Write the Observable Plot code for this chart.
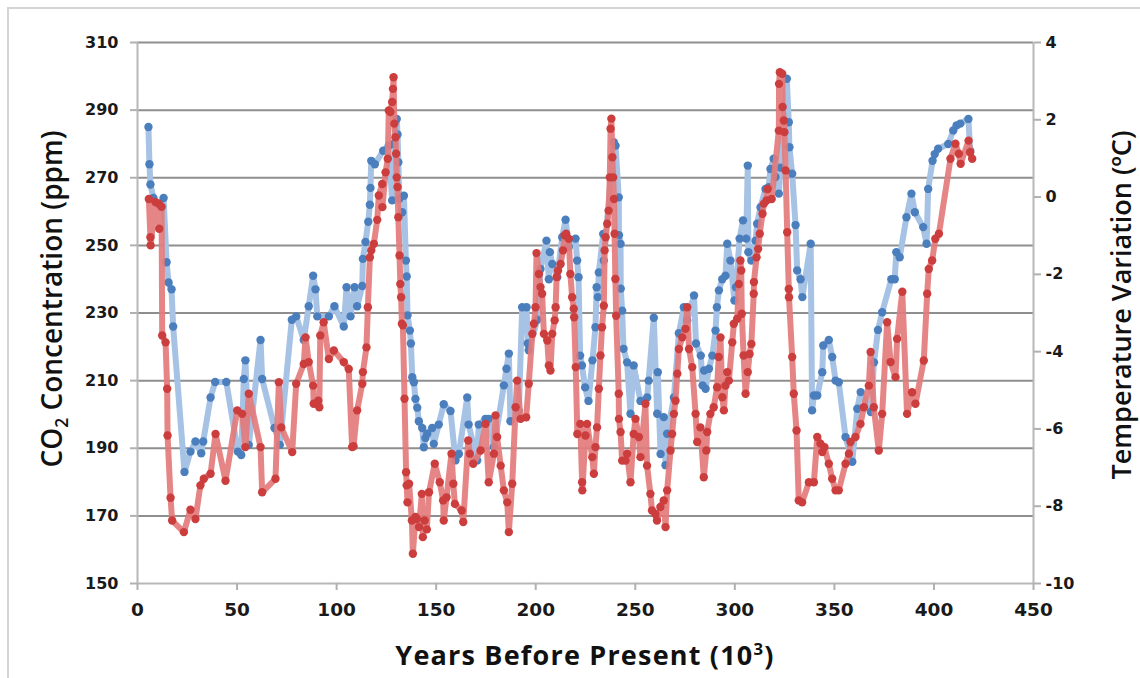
<!DOCTYPE html>
<html>
<head>
<meta charset="utf-8">
<script src="https://cdn.jsdelivr.net/npm/d3@7"></script>
<script src="https://cdn.jsdelivr.net/npm/@observablehq/plot@0.6"></script>
<style>
  html, body { margin:0; padding:0; background:#fff; overflow:hidden; }
  #wrap { position:relative; width:1140px; height:678px; overflow:hidden; background:#fff; }
  #frame { position:absolute; left:7px; top:7px; width:1200px; height:800px; border:2px solid #d4d4d4; box-sizing:border-box; }
  #chart { position:absolute; left:0; top:0; }
  .title { position:absolute; white-space:nowrap; color:#111; font-family:"Open Sans", "Noto Sans", sans-serif; font-weight:600; line-height:1.2; }
  #ylab { left:52px; top:299px; font-size:28px; transform:translate(-50%,-50%) rotate(-90deg); }
  #y2lab { left:1121px; top:305px; font-size:27px; transform:translate(-50%,-50%) rotate(-90deg); }
  #xlab { left:585px; top:655px; font-size:27px; letter-spacing:1.2px; font-weight:700; transform:translate(-50%,-50%); }
  sub { font-size:62%; vertical-align:-0.35em; line-height:0; }
  sup { font-size:62%; vertical-align:0.6em; line-height:0; }
</style>
</head>
<body>
<div id="wrap">
  <div id="frame"></div>
  <div id="chart"></div>
  <div class="title" id="ylab">CO<sub>2</sub> Concentration (ppm)</div>
  <div class="title" id="y2lab">Temperature Variation (ºC)</div>
  <div class="title" id="xlab">Years Before Present (10<sup>3</sup>)</div>
</div>
<script>
// ---- data ----
const co2Years = [5.5,6.0,6.5,8.0,10.5,13.1,14.6,15.6,17.1,17.9,23.6,26.6,29.1,32.0,33.0,36.7,39.0,44.6,50.4,52.1,53.4,54.2,55.9,61.8,62.6,68.8,71.5,77.5,79.7,83.5,86.0,88.2,89.4,90.3,96.1,98.9,103.6,105.0,107.0,109.0,110.3,112.9,113.2,114.5,115.9,116.7,117.0,117.4,119.2,123.4,126.2,127.9,128.7,130.2,130.6,131.0,131.5,132.9,133.8,134.8,135.2,135.6,136.8,137.3,138.0,138.8,139.6,140.5,141.3,143.0,143.8,144.6,145.5,148.0,148.8,151.3,153.8,157.2,159.7,161.4,165.6,166.3,170.6,171.4,174.8,176.4,179.0,184.0,185.3,186.5,187.3,191.5,193.2,195.4,196.0,196.5,200.8,202.4,205.4,206.6,207.1,208.3,210.8,213.3,215.0,216.6,220.0,220.8,221.5,222.3,223.2,224.8,226.5,228.5,230.0,230.6,231.2,231.7,233.9,234.2,239.2,240.1,241.7,241.8,242.6,242.7,243.4,244.1,245.9,247.6,249.2,252.6,256.0,256.7,259.3,261.0,261.3,262.7,264.3,265.2,266.0,269.4,271.9,274.4,276.1,279.5,280.5,282.9,283.8,284.6,285.3,287.0,288.7,290.3,291.0,292.0,293.7,295.3,296.2,297.8,299.8,300.6,302.4,304.1,305.7,306.5,306.8,308.3,310.4,311.2,312.9,315.4,317.0,317.9,319.5,320.4,322.1,322.9,326.1,327.1,327.4,328.8,330.5,331.3,333.0,333.9,338.1,338.8,339.7,341.4,343.9,344.4,347.2,348.9,350.6,352.2,355.6,359.0,361.5,363.2,368.3,369.9,371.9,374.0,378.6,380.3,381.1,382.8,386.2,388.7,390.4,394.6,396.3,397.1,399.3,400.4,402.1,407.2,409.7,411.4,413.2,417.3,418.2];
const co2Values = [285,274,268,264,262,264,245,239,237,226,183,189,192,188.5,192,205,209.6,209.6,189,188,210.5,216,191,222,210.5,196,191,228,229,222,232,241,237,229,229,232,226,237.6,229,237.6,232,238,246,251,257,262,267,275,274,278,279.5,263.3,280,287.4,282.8,274.6,263.8,259.8,264.7,245.5,240.8,229.3,224.8,221,211,209.5,204.6,202,198,196,190.3,193,194.3,196,191.3,197,203,201,186.4,188.3,205,197,186.4,197,198.7,198.7,190.3,208.6,213.5,218,198,201,231.7,231.7,221,219,228,243,251.4,240,248,244.5,240.6,252.4,257.6,249.5,252,245.5,240.6,217.4,214.5,208,204,216,225.8,237.6,234.7,242,253.4,245.5,280.5,279.5,264.2,253,250.5,237.2,230.7,219.4,215.4,200.2,214.5,204,205,210,228.6,200.2,212.5,188.3,199.2,185,194.3,205,224,231.7,227.8,235.2,221,217.4,208.6,213,207.6,213.5,217.4,224.8,231.7,236.7,240,241,250.5,245.5,233.7,237.6,252,257.4,252,273.6,248,245.5,251.4,256.4,261.3,266.7,267.2,272.6,275.6,270.2,265.3,273,299.3,286.4,279,271.2,256,242.6,240,234.7,250.5,201.2,205.6,205.6,212.5,220.4,222,217,210,209.5,193.3,186,201.7,206.6,200.7,215.4,225,230.2,240,240,248,246.5,258.3,265.3,259.8,255.4,250.5,266.7,275,277,278.6,280,284,285.5,286,287.4,278];

const tempYears = [5.7,6.5,6.6,9.0,10.7,10.9,12.1,12.4,14.1,14.9,15.1,16.6,17.4,23.3,26.6,29.1,31.6,33.3,36.7,39.2,44.2,50.1,52.6,54.2,55.9,61.8,62.6,69.3,71.0,72.2,77.7,79.7,83.5,84.4,86.0,88.2,88.5,90.8,91.3,91.8,93.5,96.1,98.6,103.6,106.1,107.8,108.5,110.3,112.9,113.2,115.0,115.7,116.7,117.4,118.7,120.4,121.2,122.9,123.0,124.6,125.7,126.2,127.0,127.9,128.3,128.6,129.0,129.6,129.9,130.2,130.6,131.0,131.6,132.0,132.4,132.8,133.3,134.1,134.9,135.2,135.6,136.4,137.8,138.3,139.6,140.3,141.4,142.8,143.3,144.2,145.3,146.4,149.3,151.8,153.5,153.8,155.2,157.7,158.6,159.4,162.8,163.6,166.1,166.9,168.6,172.3,174.8,176.4,179.0,179.8,180.6,182.4,184.0,185.7,186.5,188.2,189.9,190.7,192.4,195.2,196.5,198.3,199.1,199.9,200.4,201.6,202.4,203.2,204.1,205.8,206.6,207.4,208.3,209.5,210.0,210.5,211.2,212.5,213.7,214.5,215.3,216.6,217.4,218.3,219.1,219.3,220.1,220.9,222.4,223.3,223.4,225.0,225.8,228.4,229.2,230.0,230.8,231.7,232.5,233.3,234.2,234.6,235.1,235.9,236.6,237.2,237.6,238.0,238.5,238.9,239.3,239.6,240.0,240.4,241.7,241.8,242.6,243.4,245.1,245.9,247.6,249.2,250.1,251.8,252.6,255.1,255.9,257.6,258.4,260.1,260.9,262.6,264.3,265.2,266.0,267.7,268.5,269.4,270.2,271.1,271.9,273.6,275.2,276.1,277.0,278.6,280.3,281.1,282.7,284.4,285.7,286.1,287.7,289.4,291.1,291.9,292.8,293.7,294.5,295.3,296.2,297.0,298.7,299.5,301.2,302.0,302.8,303.2,303.5,304.4,305.4,306.5,307.4,308.3,309.5,309.6,310.9,311.7,312.5,313.9,314.6,315.9,316.5,318.5,322.1,322.2,322.6,323.8,324.0,324.6,324.9,325.5,326.3,327.1,327.2,328.8,329.6,331.0,332.1,333.8,337.2,339.7,341.4,343.0,343.9,345.0,347.2,348.9,350.6,352.2,355.6,357.3,358.1,360.6,363.1,364.8,367.3,368.2,369.8,372.3,374.0,376.5,378.2,380.7,381.5,384.1,386.5,389.0,390.7,394.9,396.6,397.4,399.1,400.7,402.5,408.3,410.8,412.5,413.4,417.4,418.2,419.2];
const tempValues = [-0.05,-1.04,-1.25,-0.13,-0.17,-0.82,-0.25,-3.58,-3.76,-4.96,-6.17,-7.78,-8.37,-8.67,-8.09,-8.33,-7.46,-7.29,-7.16,-6.13,-7.34,-5.52,-5.61,-6.47,-5.09,-6.47,-7.64,-7.29,-4.79,-5.96,-6.6,-4.83,-4.32,-3.63,-4.27,-4.88,-5.35,-5.27,-5.44,-3.58,-3.24,-4.19,-3.97,-4.27,-4.45,-6.47,-6.45,-5.52,-4.83,-4.53,-3.89,-2.85,-1.56,-1.38,-1.21,-0.59,0.04,0.34,-0.26,0.64,0.99,2.24,2.2,2.46,2.8,3.1,1.9,1.55,1.12,0.51,0.26,-0.52,-1.51,-2.25,-2.59,-3.28,-3.32,-5.22,-7.12,-7.46,-7.9,-7.42,-8.37,-9.23,-8.28,-8.33,-8.54,-7.68,-8.8,-8.37,-8.6,-7.64,-6.9,-7.38,-7.85,-8.37,-7.77,-6.64,-7.42,-7.94,-8.11,-8.41,-6.3,-6.64,-6.9,-6.56,-5.87,-7.38,-6.64,-5.65,-6.21,-6.95,-7.59,-7.9,-8.67,-7.42,-5.44,-4.75,-5.74,-5.7,-4.83,-3.54,-3.28,-2.85,-1.45,-1.99,-2.33,-2.5,-3.54,-3.71,-4.36,-4.49,-3.54,-3.19,-2.85,-2.07,-1.9,-1.73,-1.38,-0.99,-0.95,-1.08,-1.99,-2.59,-2.89,-3.11,-4.4,-6.13,-5.87,-7.38,-7.59,-6.17,-5.87,-6.73,-7.16,-6.47,-5.96,-4.96,-4.1,-3.37,-2.81,-1.38,-1.04,-0.69,-0.35,0.51,1.77,2.03,1.03,0.51,-0.05,-0.95,-2.12,-3.07,-5.09,-5.74,-6.08,-6.82,-6.82,-6.64,-7.38,-6.13,-5.74,-6.21,-6.73,-5.35,-6.95,-7.68,-8.11,-8.2,-8.37,-8.02,-7.85,-8.54,-7.59,-6.56,-6.13,-5.61,-5.27,-4.57,-3.93,-3.63,-3.41,-2.85,-3.93,-4.4,-5.61,-6.34,-5.96,-7.25,-6.56,-6.08,-5.61,-5.44,-4.92,-4.14,-3.63,-5.18,-5.52,-4.88,-4.53,-4.75,-3.76,-3.28,-3.15,-2.25,-1.64,-1.9,-3.02,-4.1,-5.09,-4.53,-4.06,-3.8,-2.5,-2.2,-1.56,-1.34,-0.95,-0.43,-0.17,-0.09,0.21,-0.05,1.72,2.93,3.23,3.19,2.33,1.98,1.68,0.69,-0.91,-2.38,-2.59,-4.14,-5.09,-6.04,-7.85,-7.9,-7.38,-7.38,-6.21,-6.38,-6.6,-6.47,-6.9,-7.29,-7.59,-7.59,-6.9,-6.64,-6.34,-6.21,-5.87,-5.44,-4.88,-4.01,-5.44,-6.56,-5.61,-3.24,-4.27,-4.66,-3.67,-2.45,-5.61,-5.05,-5.35,-4.23,-2.5,-1.86,-1.64,-1.08,-0.95,0.99,1.38,1.12,0.86,1.46,1.16,0.99];

const co2Ticks = [150,170,190,210,230,250,270,290,310];
const tempTicks = [-10,-8,-6,-4,-2,0,2,4];
const yearTicks = [0,50,100,150,200,250,300,350,400,450];

// ---- scale helpers ----
const co2Domain = [co2Ticks[0], co2Ticks[co2Ticks.length-1]];
const tempDomain = [tempTicks[0], tempTicks[tempTicks.length-1]];
const tempToCo2 = t => co2Domain[0] + (t - tempDomain[0]) * (co2Domain[1]-co2Domain[0]) / (tempDomain[1]-tempDomain[0]);
const co2ToTemp = v => tempDomain[0] + (v - co2Domain[0]) * (tempDomain[1]-tempDomain[0]) / (co2Domain[1]-co2Domain[0]);

const co2 = co2Years.map((yr,i) => ({yr, v: co2Values[i]}));
const temp = tempYears.map((yr,i) => ({yr, t: tempValues[i]}));

const tickFont = "'DejaVu Sans', Verdana, sans-serif";

const chart = Plot.plot({
  width: 1140,
  height: 678,
  marginLeft: 137,
  marginRight: 107,
  marginTop: 42,
  marginBottom: 95,
  x: {domain: [yearTicks[0], yearTicks[yearTicks.length-1]]},
  y: {domain: co2Domain},
  style: {background: "transparent", overflow: "visible"},
  marks: [
    Plot.ruleY(co2Ticks.filter(d => d > co2Domain[0]), {stroke: "#8e8e8e", strokeWidth: 2}),
    Plot.ruleY([co2Domain[0]], {stroke: "#b8b8b8", strokeWidth: 2}),
    Plot.ruleX([yearTicks[0], yearTicks[yearTicks.length-1]], {stroke: "#b8b8b8", strokeWidth: 2}),
    Plot.axisY({ticks: co2Ticks, tickSize: 7, tickPadding: 12, stroke: "#b0b0b0", strokeWidth: 2, fill: "#1a1a1a",
      fontFamily: tickFont, fontWeight: "bold", fontSize: 16, label: null, tickFormat: d => String(d)}),
    Plot.axisY({anchor: "right", ticks: tempTicks.map(tempToCo2), tickSize: 7, tickPadding: 5, stroke: "#b0b0b0", strokeWidth: 2, fill: "#1a1a1a",
      fontFamily: tickFont, fontWeight: "bold", fontSize: 16, label: null,
      tickFormat: v => String(Math.round(co2ToTemp(v)))}),
    Plot.axisX({ticks: yearTicks, tickSize: 7, tickPadding: 12, stroke: "#b0b0b0", strokeWidth: 2, fill: "#1a1a1a",
      fontFamily: tickFont, fontWeight: "bold", fontSize: 18.5, label: null, tickFormat: d => String(d)}),
    Plot.line(co2, {x: "yr", y: "v", stroke: "#a6c2e4", strokeWidth: 6, strokeLinejoin: "round"}),
    Plot.dot(co2, {x: "yr", y: "v", r: 4.2, fill: "#4a7ebd", stroke: "none"}),
    Plot.line(temp, {x: "yr", y: d => tempToCo2(d.t), stroke: "#e37b7b", strokeOpacity: 0.92, strokeWidth: 6, strokeLinejoin: "round"}),
    Plot.dot(temp, {x: "yr", y: d => tempToCo2(d.t), r: 4.2, fill: "#cc3d3d", stroke: "none"})
  ]
});
document.getElementById("chart").appendChild(chart);
</script>
</body>
</html>
